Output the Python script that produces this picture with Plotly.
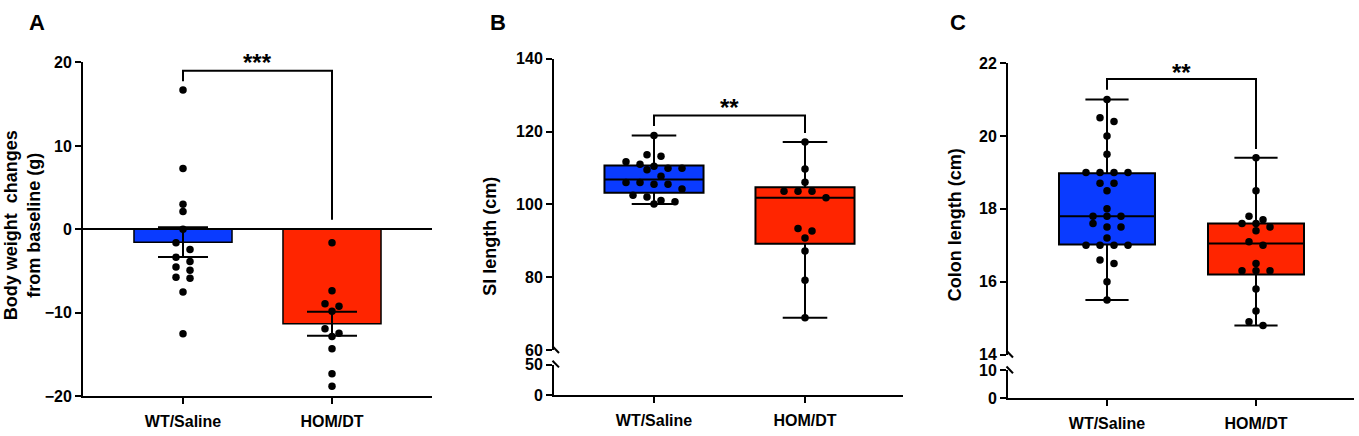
import plotly.graph_objects as go
import numpy as np

# ---- data ----
categories = ["WT/Saline", "HOM/DT"]

# A: body weight change from baseline (g), individual animals
bw_wt = [16.7, 7.3, 3.0, 2.15, 0.0, -1.6, -2.4, -3.35, -3.85, -4.5, -4.9,
         -5.85, -5.75, -7.5, -12.5]
bw_hom = [-1.6, -7.35, -8.9, -9.2, -9.8, -11.9, -12.45, -12.85, -14.3,
          -17.3, -18.8]

# B: SI length (cm)
si_wt = [118.9, 113.6, 113.2, 111.7, 111.0, 110.5, 109.9, 109.9, 109.5, 107.7,
         106.0, 106.0, 105.5, 105.5, 104.2, 102.5, 102.0, 101.1, 100.7, 100.1]
si_hom = [117.1, 109.7, 106.1, 103.6, 103.6, 103.6, 101.8, 93.4, 92.7, 90.8,
          87.2, 79.2, 68.9]
si_q1 = [103.2, 89.2]
si_median = [106.8, 101.85]
si_q3 = [110.7, 104.7]

# C: colon length (cm)
colon_wt = [21.0, 20.5, 20.4, 20.0, 19.5, 19.0, 19.0, 19.0, 19.0, 18.7, 18.7,
            18.5, 18.0, 17.8, 17.8, 17.8, 17.6, 17.5, 17.5, 17.2, 17.0, 17.0,
            17.0, 17.0, 16.6, 16.5, 16.0, 15.5]
colon_hom = [19.4, 18.5, 17.8, 17.7, 17.6, 17.6, 17.5, 17.4, 17.1, 17.0, 16.5,
             16.3, 16.3, 16.3, 15.8, 15.2, 14.9, 14.8]
colon_q1 = [17.02, 16.2]
colon_median = [17.8, 17.05]
colon_q3 = [18.98, 17.6]

blue = "#0A3BFF"
red = "#FF2500"
FONT = "Arial, Liberation Sans, sans-serif"

W, H = 1359, 436


def px_x(p):
    return p / W


def px_y(p):
    return 1 - p / H


def swarm(vals, unit_y, step_x, center, gap=7):
    # Prism-like rows: close values share a row, centred on the category
    order = sorted(range(len(vals)), key=lambda i: -vals[i])
    rows = []
    for i in order:
        if rows and (vals[rows[-1][0]] - vals[i]) * unit_y < gap:
            rows[-1].append(i)
        else:
            rows.append([i])
    xs = [center] * len(vals)
    for row in rows:
        n = len(row)
        for k, i in enumerate(row):
            xs[i] = center + (k - (n - 1) / 2) * step_x
    return xs


def axis_style(**kw):
    d = dict(showline=True, linecolor="black", linewidth=2, ticks="outside",
             ticklen=6, tickwidth=2, tickcolor="black", showgrid=False,
             zeroline=False, tickfont=dict(family=FONT, size=16, color="black",
                                           weight="bold"))
    d.update(kw)
    return d


fig = go.Figure()
shapes = []
annotations = []

# ---------- panel A ----------
ax0, ax1, ayt, ayb = 83, 432, 56.7, 404
a_unit = 149
a_uy = (ayb - ayt) / 40
a_step = 14 / a_unit
for k, (vals, col) in enumerate([(bw_wt, blue), (bw_hom, red)]):
    v = np.array(vals)
    fig.add_trace(go.Bar(
        x=[k], y=[v.mean()], width=0.658, xaxis="x", yaxis="y",
        marker=dict(color=col, line=dict(color="black", width=1.5)),
        error_y=dict(type="data", array=[v.std(ddof=1) / np.sqrt(len(v))],
                     color="black", thickness=2, width=25),
        showlegend=False))
for k, vals in enumerate([bw_wt, bw_hom]):
    fig.add_trace(go.Scatter(
        x=swarm(vals, a_uy, a_step, k), y=vals, mode="markers",
        xaxis="x", yaxis="y", cliponaxis=False,
        marker=dict(color="black", size=7.5), showlegend=False))

# ---------- panel B ----------
bx0, bx1 = 554, 903
b_unit = 151
b_uy = (356 - 52.7) / 80
b_step = 14 / b_unit
for k, (vals, col) in enumerate([(si_wt, blue), (si_hom, red)]):
    fig.add_trace(go.Box(
        x=[k], q1=[si_q1[k]], median=[si_median[k]], q3=[si_q3[k]],
        lowerfence=[min(vals)], upperfence=[max(vals)],
        width=0.656, whiskerwidth=0.45, boxpoints=False,
        line=dict(color="black", width=2), fillcolor=col,
        xaxis="x2", yaxis="y3", showlegend=False))
for k, vals in enumerate([si_wt, si_hom]):
    fig.add_trace(go.Scatter(
        x=swarm(vals, b_uy, b_step, k), y=vals, mode="markers",
        xaxis="x2", yaxis="y3", cliponaxis=False,
        marker=dict(color="black", size=7.5), showlegend=False))

# ---------- panel C ----------
cx0, cx1 = 1008, 1354
c_unit = 149
c_uy = (360.7 - 57.3) / 8
c_step = 14 / c_unit
for k, (vals, col) in enumerate([(colon_wt, blue), (colon_hom, red)]):
    fig.add_trace(go.Box(
        x=[k], q1=[colon_q1[k]], median=[colon_median[k]], q3=[colon_q3[k]],
        lowerfence=[min(vals)], upperfence=[max(vals)],
        width=0.644, whiskerwidth=0.45, boxpoints=False,
        line=dict(color="black", width=2), fillcolor=col,
        xaxis="x3", yaxis="y5", showlegend=False))
for k, vals in enumerate([colon_wt, colon_hom]):
    fig.add_trace(go.Scatter(
        x=swarm(vals, c_uy, c_step, k), y=vals, mode="markers",
        xaxis="x3", yaxis="y5", cliponaxis=False,
        marker=dict(color="black", size=7.5), showlegend=False))

# empty traces so the lower (broken) axis segments get drawn
for xa, ya in [("x2", "y2"), ("x3", "y4")]:
    fig.add_trace(go.Scatter(x=[None], y=[None], xaxis=xa, yaxis=ya,
                             mode="markers", showlegend=False, hoverinfo="skip"))

xcat = dict(tickvals=[0, 1], ticktext=categories, ticklabelstandoff=4)

fig.update_layout(
    width=W, height=H, margin=dict(l=0, r=0, t=0, b=0),
    paper_bgcolor="white", plot_bgcolor="rgba(0,0,0,0)",
    showlegend=False,
    xaxis=axis_style(domain=[px_x(ax0), px_x(ax1)], anchor="y",
                     range=[(ax0 - 183) / a_unit, (ax1 - 183) / a_unit], **xcat),
    yaxis=axis_style(domain=[px_y(ayb), px_y(ayt)], anchor="x", range=[-20, 20],
                     tickvals=[-20, -10, 0, 10, 20], zeroline=True,
                     zerolinecolor="black", zerolinewidth=2),
    xaxis2=axis_style(domain=[px_x(bx0), px_x(bx1)], anchor="y2",
                      range=[(bx0 - 654) / b_unit, (bx1 - 654) / b_unit], **xcat),
    yaxis2=axis_style(domain=[px_y(403), px_y(371)], anchor="x2", range=[0, 50],
                      tickvals=[0, 50]),
    yaxis3=axis_style(domain=[px_y(356), px_y(52.7)], anchor="x2", range=[60, 140],
                      tickvals=[60, 80, 100, 120, 140]),
    xaxis3=axis_style(domain=[px_x(cx0), px_x(cx1)], anchor="y4",
                      range=[(cx0 - 1107) / c_unit, (cx1 - 1107) / c_unit], **xcat),
    yaxis4=axis_style(domain=[px_y(406), px_y(377)], anchor="x3", range=[0, 10],
                      tickvals=[0, 10]),
    yaxis5=axis_style(domain=[px_y(360.7), px_y(57.3)], anchor="x3", range=[14, 22],
                      tickvals=[14, 16, 18, 20, 22]),
)

# significance brackets
shapes.append(dict(type="path", xref="x", yref="y",
                   path="M 0,17.75 L 0,19 L 1,19 L 1,1.15",
                   line=dict(color="black", width=2)))
shapes.append(dict(type="path", xref="x2", yref="y3",
                   path="M 0,121.5 L 0,124.4 L 1,124.4 L 1,119.6",
                   line=dict(color="black", width=2)))
shapes.append(dict(type="path", xref="x3", yref="y5",
                   path="M 0,21.27 L 0,21.56 L 1,21.56 L 1,19.64",
                   line=dict(color="black", width=2)))

# axis break marks
for axx, yb_top, yb_bot in [(554, 356, 371), (1008, 360.7, 377)]:
    for yy in (yb_top, yb_bot):
        shapes.append(dict(type="line", xref="paper", yref="paper",
                           x0=px_x(axx - 1.5), y0=px_y(yy - 4),
                           x1=px_x(axx + 5), y1=px_y(yy + 3),
                           line=dict(color="black", width=2)))

star_font = dict(family=FONT, size=24, color="black", weight="bold")
annotations += [
    dict(x=0.5, y=19.95, xref="x", yref="y", text="***", showarrow=False,
         font=star_font, yanchor="middle"),
    dict(x=0.5, y=126.5, xref="x2", yref="y3", text="**", showarrow=False,
         font=star_font, yanchor="middle"),
    dict(x=0.5, y=21.74, xref="x3", yref="y5", text="**", showarrow=False,
         font=star_font, yanchor="middle"),
]

letter_font = dict(family=FONT, size=22, color="black", weight="bold")
for letter, lx in [("A", 37), ("B", 498), ("C", 958)]:
    annotations.append(dict(x=px_x(lx), y=px_y(15), xref="paper", yref="paper",
                            text=letter, showarrow=False, font=letter_font,
                            xanchor="center", yanchor="middle"))

title_font = dict(family=FONT, size=18, color="black", weight="bold")
for txt, tx, ty in [("Body weight\u00a0 changes<br>from baseline (g)", 22, 226),
                    ("SI length (cm)", 490, 238),
                    ("Colon length (cm)", 955, 226)]:
    annotations.append(dict(x=px_x(tx), y=px_y(ty), xref="paper", yref="paper",
                            text=txt, showarrow=False, font=title_font,
                            textangle=-90, xanchor="center", yanchor="middle"))

fig.update_layout(shapes=shapes, annotations=annotations)

fig.write_html("out.html", config={"displayModeBar": False},
               post_script="document.body.style.margin='0';")
